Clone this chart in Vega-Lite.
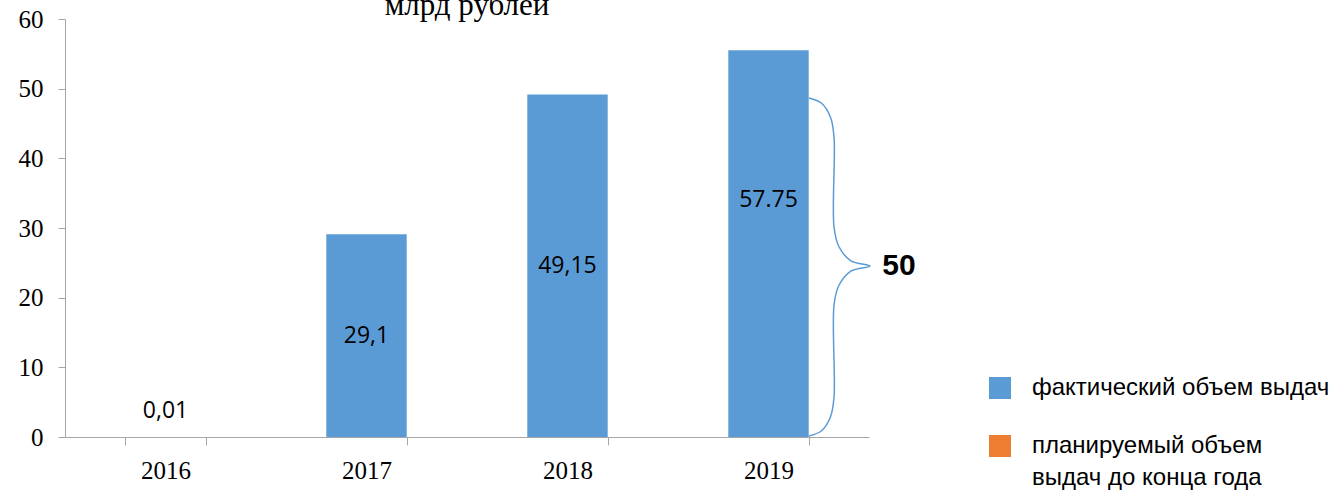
{
  "$schema": "https://vega.github.io/schema/vega-lite/v6.json",
  "width": 804,
  "height": 418,
  "autosize": {"type": "none"},
  "padding": {"left": 65, "top": 19, "right": 461, "bottom": 56},
  "background": "white",
  "config": {"view": {"stroke": null}},
  "datasets": {
    "bars": [
      {"year": "2016", "value": 0.01, "label": "0,01", "series": "фактический объем выдач"},
      {"year": "2017", "value": 29.1, "label": "29,1", "series": "фактический объем выдач"},
      {"year": "2018", "value": 49.15, "label": "49,15", "series": "фактический объем выдач"},
      {"year": "2019", "value": 55.5, "label": "57.75", "series": "фактический объем выдач"}
    ],
    "brace": [
      {"ord": 1, "bx": 3.701, "by": 48.66},
      {"ord": 2, "bx": 3.764, "by": 47.91},
      {"ord": 3, "bx": 3.809, "by": 45.86},
      {"ord": 4, "bx": 3.826, "by": 43.06},
      {"ord": 5, "bx": 3.826, "by": 30.14},
      {"ord": 6, "bx": 3.850, "by": 27.34},
      {"ord": 7, "bx": 3.910, "by": 25.29},
      {"ord": 8, "bx": 4.005, "by": 24.54},
      {"ord": 9, "bx": 3.910, "by": 23.80},
      {"ord": 10, "bx": 3.850, "by": 21.75},
      {"ord": 11, "bx": 3.826, "by": 18.95},
      {"ord": 12, "bx": 3.826, "by": 5.74},
      {"ord": 13, "bx": 3.809, "by": 2.94},
      {"ord": 14, "bx": 3.764, "by": 0.89},
      {"ord": 15, "bx": 3.701, "by": 0.14}
    ],
    "notes": [
      {"kind": "brace", "tx": 4.149, "ty": 24.5, "text": "50"},
      {"kind": "title", "tx": 2.0, "ty": 60, "text": "млрд рублей"}
    ]
  },
  "layer": [
    {
      "layer": [
        {
          "data": {"name": "bars"},
          "mark": {"type": "bar", "color": "#5B9BD5"},
          "encoding": {
            "x": {
              "field": "year", "type": "ordinal",
              "scale": {"paddingInner": 0.6, "paddingOuter": 0.3},
              "axis": {
                "title": null, "labelAngle": 0, "tickBand": "extent",
                "domainColor": "#A6A6A6", "tickColor": "#A6A6A6", "tickSize": 8,
                "labelFont": "Liberation Serif", "labelFontSize": 25, "labelColor": "#000000",
                "labelPadding": 13
              }
            },
            "y": {
              "field": "value", "type": "quantitative",
              "scale": {"domain": [0, 60], "nice": false},
              "axis": {
                "title": null, "grid": false, "values": [0, 10, 20, 30, 40, 50, 60],
                "domainColor": "#A6A6A6", "tickColor": "#A6A6A6", "tickSize": 7,
                "labelFont": "Liberation Serif", "labelFontSize": 25, "labelColor": "#000000",
                "labelPadding": 15
              }
            },
            "color": {
              "field": "series", "type": "nominal",
              "scale": {
                "domain": ["фактический объем выдач", "планируемый объем выдач до конца года"],
                "range": ["#5B9BD5", "#ED7D31"]
              },
              "legend": {
                "title": null, "orient": "none", "legendX": 923, "legendY": 357,
                "symbolType": "square", "symbolSize": 484, "symbolStrokeWidth": 0, "symbolOpacity": 1,
                "labelFont": "Liberation Sans", "labelFontSize": 24, "labelColor": "#000000",
                "labelOffset": 20, "rowPadding": 34, "labelLimit": 400,
                "labelExpr": "datum.label == 'планируемый объем выдач до конца года' ? ['планируемый объем', 'выдач до конца года'] : datum.label",
                "encode": {"labels": {"update": {"lineHeight": {"value": 32}}}}
              }
            }
          }
        },
        {
          "data": {"name": "bars"},
          "transform": [
            {"filter": "datum.year == '2017' || datum.year == '2018'"},
            {"calculate": "datum.value / 2", "as": "mid"}
          ],
          "mark": {"type": "text", "font": "Open Sans", "fontSize": 23, "color": "#000000", "baseline": "middle"},
          "encoding": {
            "x": {"field": "year", "type": "ordinal"},
            "y": {"field": "mid", "type": "quantitative"},
            "text": {"field": "label"}
          }
        },
        {
          "data": {"name": "bars"},
          "transform": [
            {"filter": "datum.year == '2019'"},
            {"calculate": "datum.value / 2", "as": "mid"}
          ],
          "mark": {"type": "text", "font": "Open Sans", "fontSize": 23, "color": "#000000", "baseline": "middle", "dy": -44},
          "encoding": {
            "x": {"field": "year", "type": "ordinal"},
            "y": {"field": "mid", "type": "quantitative"},
            "text": {"field": "label"}
          }
        },
        {
          "data": {"name": "bars"},
          "transform": [{"filter": "datum.year == '2016'"}],
          "mark": {"type": "text", "font": "Open Sans", "fontSize": 23, "color": "#000000", "baseline": "alphabetic", "dy": -19},
          "encoding": {
            "x": {"field": "year", "type": "ordinal"},
            "y": {"field": "value", "type": "quantitative"},
            "text": {"field": "label"}
          }
        }
      ]
    },
    {
      "layer": [
        {
          "data": {"name": "brace"},
          "mark": {"type": "line", "color": "#5B9BD5", "strokeWidth": 1.5, "interpolate": "catmull-rom"},
          "encoding": {
            "x": {"field": "bx", "type": "quantitative", "scale": {"domain": [0, 4], "nice": false, "zero": false}, "axis": null},
            "y": {"field": "by", "type": "quantitative"},
            "order": {"field": "ord", "type": "quantitative"}
          }
        },
        {
          "data": {"name": "notes"},
          "transform": [{"filter": "datum.kind == 'brace'"}],
          "mark": {"type": "text", "font": "Liberation Sans", "fontWeight": "bold", "fontSize": 30, "color": "#000000", "baseline": "middle", "align": "center"},
          "encoding": {
            "x": {"field": "tx", "type": "quantitative"},
            "y": {"field": "ty", "type": "quantitative"},
            "text": {"field": "text"}
          }
        },
        {
          "data": {"name": "notes"},
          "transform": [{"filter": "datum.kind == 'title'"}],
          "mark": {"type": "text", "font": "Liberation Serif", "fontSize": 31, "color": "#000000", "baseline": "alphabetic", "align": "center", "dy": -4},
          "encoding": {
            "x": {"field": "tx", "type": "quantitative"},
            "y": {"field": "ty", "type": "quantitative"},
            "text": {"field": "text"}
          }
        }
      ]
    }
  ],
  "resolve": {"scale": {"x": "independent"}, "axis": {"x": "independent"}}
}
